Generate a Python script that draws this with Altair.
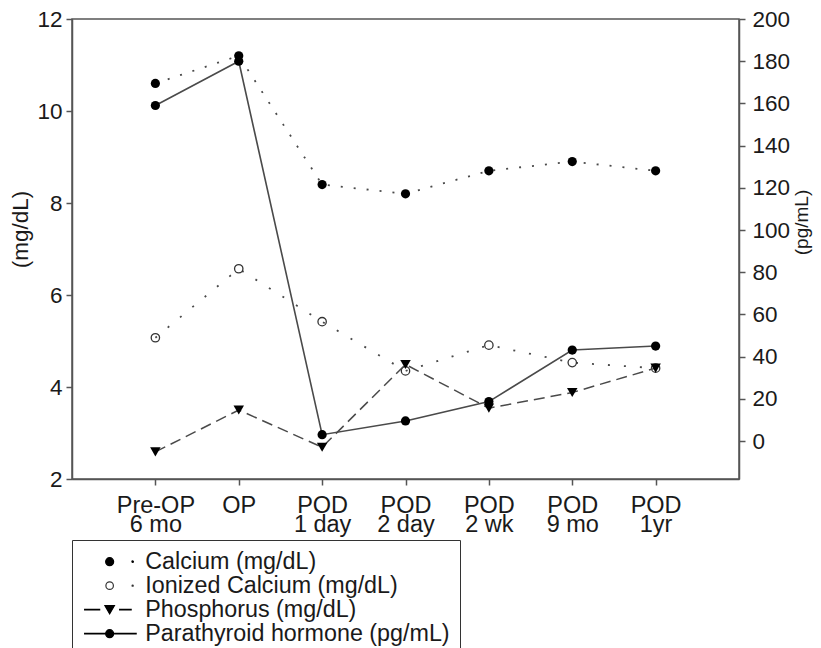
import altair as alt
import pandas as pd

FONT = "Liberation Sans"

categories = ["Pre-OP\n6 mo", "OP", "POD\n1 day", "POD\n2 day", "POD\n2 wk", "POD\n9 mo", "POD\n1yr"]
calcium = [10.6, 11.2, 8.4, 8.2, 8.7, 8.9, 8.7]
ionized = [5.07, 6.57, 5.42, 4.35, 4.91, 4.53, 4.41]
phosphorus = [2.59, 3.5, 2.69, 4.49, 3.54, 3.88, 4.41]
pth = [159, 180, 3, 9.5, 18.7, 43.1, 45]

series_names = ["Calcium (mg/dL)", "Ionized Calcium (mg/dL)", "Phosphorus (mg/dL)", "Parathyroid hormone (pg/mL)"]
left_ticks = [2, 4, 6, 8, 10, 12]
right_ticks = [0, 20, 40, 60, 80, 100, 120, 140, 160, 180, 200]

rows = []
for name, vals in zip(series_names, [calcium, ionized, phosphorus, pth]):
    for c, v in zip(categories, vals):
        rows.append({"category": c, "series": name, "value": v})
df = pd.DataFrame(rows)

LINE = "#4a4a4a"
AX = "#555555"


def circ(cx, r):
    return f"M{cx - r},0A{r},{r} 0 1,0 {cx + r},0A{r},{r} 0 1,0 {cx - r},0Z"


def rect(x0, x1, h):
    return f"M{x0},{-h}L{x1},{-h}L{x1},{h}L{x0},{h}Z"


legend_paths = [
    circ(0, 0.8) + circ(4.6, 0.15),
    circ(0, 0.75) + circ(4.6, 0.12),
    rect(-5, -2, 0.06) + "M-0.95,-0.8L0.95,-0.8L0,0.85Z" + rect(2, 4.3, 0.06),
    rect(-5, 5.3, 0.06) + circ(0, 0.8),
]
legend_fills = ["black", "white", "black", "black"]
legend_strokes = ["black", "#333333", "black", "black"]

x_enc = alt.X(
    "category:N",
    sort=categories,
    scale=alt.Scale(padding=1),
    axis=alt.Axis(
        title=None,
        labelAngle=0,
        labelExpr="split(datum.label, '\\n')",
        labelLineHeight=19,
        labelPadding=8,
        labelFontSize=23.5,
        labelOverlap=False,
    ),
)

y_left = alt.Y(
    "value:Q",
    scale=alt.Scale(domain=[2, 12], nice=False, zero=False),
    axis=alt.Axis(
        orient="left",
        values=left_ticks,
        title="(mg/dL)",
        titleAngle=270,
        titleX=-45,
        titleY=210,
        titleAlign="center",
        titleBaseline="alphabetic",
        titleFontSize=22.5,
        labelPadding=4,
    ),
)

y_right = alt.Y(
    "value:Q",
    scale=alt.Scale(domain=[-18, 200], nice=False, zero=False),
    axis=alt.Axis(
        orient="right",
        values=right_ticks,
        title="(pg/mL)",
        titleAngle=270,
        titleX=68,
        titleY=203,
        titleAlign="center",
        titleBaseline="alphabetic",
        titleFontSize=19,
        labelPadding=7,
    ),
)


def series_base(name):
    return alt.Chart(df).transform_filter(alt.datum.series == name)


calc_line = series_base(series_names[0]).mark_line(
    color=LINE, strokeWidth=1.8, strokeDash=[2, 11]
).encode(x=x_enc, y=y_left)
calc_pts = series_base(series_names[0]).mark_point(
    shape="circle", filled=True, color="black", size=85, opacity=1
).encode(x=x_enc, y=y_left)

ion_line = series_base(series_names[1]).mark_line(
    color=LINE, strokeWidth=1.8, strokeDash=[2, 14]
).encode(x=x_enc, y=y_left)
ion_pts = series_base(series_names[1]).mark_point(
    shape="circle", filled=False, color="#333333", strokeWidth=1.3, size=70, opacity=1
).encode(x=x_enc, y=y_left)

phos_line = series_base(series_names[2]).mark_line(
    color=LINE, strokeWidth=1.5, strokeDash=[11, 6]
).encode(x=x_enc, y=y_left)
phos_pts = series_base(series_names[2]).mark_point(
    shape="triangle-down", filled=True, color="black", size=110, opacity=1
).encode(x=x_enc, y=y_left)

legend_def = alt.Legend(
    orient="none",
    legendX=0,
    legendY=521,
    title=None,
    strokeColor="#333333",
    padding=10,
    symbolOffset=16,
    labelOffset=24,
    labelFont=FONT,
    labelFontSize=23.3,
    labelColor="#1a1a1a",
    labelLimit=600,
    rowPadding=0,
    symbolSize=100,
    symbolStrokeWidth=1.2,
    symbolStrokeColor="black",
)

legend_layer = alt.Chart(df).transform_filter("false").mark_point(
    strokeWidth=1.2, opacity=1
).encode(
    shape=alt.Shape("series:N", scale=alt.Scale(domain=series_names, range=legend_paths), legend=legend_def),
    fill=alt.Fill("series:N", scale=alt.Scale(domain=series_names, range=legend_fills), legend=legend_def),
    stroke=alt.Stroke("series:N", scale=alt.Scale(domain=series_names, range=legend_strokes), legend=legend_def),
)

left = alt.layer(calc_line, calc_pts, ion_line, ion_pts, phos_line, phos_pts, legend_layer)

pth_line = series_base(series_names[3]).mark_line(
    color=LINE, strokeWidth=1.6
).encode(x=x_enc, y=y_right)
pth_pts = series_base(series_names[3]).mark_point(
    shape="circle", filled=True, color="black", size=85, opacity=1
).encode(x=x_enc, y=y_right)

right = alt.layer(pth_line, pth_pts)

chart = (
    alt.layer(left, right)
    .resolve_scale(y="independent")
    .properties(
        width=667,
        height=460,
        padding={"left": 64, "top": 11, "right": 74, "bottom": 169},
        autosize=alt.AutoSizeParams(type="none"),
    )
    .configure_view(stroke=AX, strokeWidth=1.5)
    .configure_axis(
        grid=False,
        domainColor=AX,
        domainWidth=1.5,
        tickColor=AX,
        tickWidth=1.5,
        tickSize=6,
        labelFont=FONT,
        labelFontSize=22.5,
        labelColor="#1a1a1a",
        titleFont=FONT,
        titleFontWeight="normal",
        titleColor="#1a1a1a",
    )
)

chart.save("out.html", embed_options={"renderer": "svg", "actions": False})
